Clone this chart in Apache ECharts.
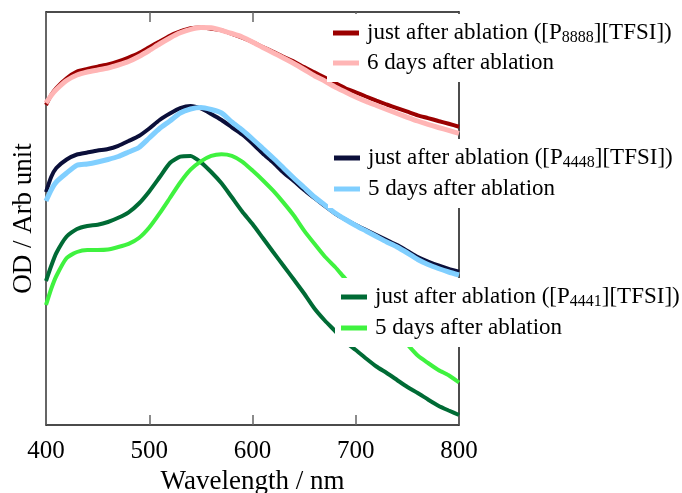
<!DOCTYPE html>
<html><head><meta charset="utf-8">
<script src="https://cdn.jsdelivr.net/npm/echarts@6/dist/echarts.min.js"></script>
<style>html,body{margin:0;padding:0;background:#fff}#c{width:682px;height:493px}</style>
</head><body><div id="c"></div>
<script>
const wavelength = [400,405,410,420,430,440,450,460,470,480,490,500,510,520,530,540,550,560,570,580,590,600,610,620,630,640,650,660,670,680,690,700,710,720,730,740,750,760,770,780,790,800];
const p8888Just = [3.20,3.30,3.37,3.467,3.534,3.56,3.584,3.605,3.636,3.675,3.72,3.778,3.835,3.893,3.935,3.967,3.976,3.963,3.946,3.911,3.873,3.83,3.78,3.732,3.681,3.635,3.579,3.527,3.474,3.42,3.368,3.327,3.285,3.244,3.205,3.169,3.133,3.097,3.069,3.04,3.012,2.983];
const p8888Day6 = [3.22,3.295,3.355,3.445,3.50,3.53,3.55,3.57,3.60,3.635,3.685,3.745,3.81,3.87,3.922,3.957,3.974,3.972,3.947,3.915,3.88,3.83,3.775,3.723,3.67,3.615,3.555,3.493,3.44,3.38,3.33,3.28,3.235,3.195,3.155,3.115,3.077,3.04,3.007,2.975,2.946,2.917];
const p4448Just = [2.33,2.48,2.57,2.655,2.705,2.725,2.745,2.76,2.792,2.84,2.89,2.965,3.05,3.114,3.168,3.19,3.165,3.11,3.05,2.977,2.905,2.815,2.715,2.625,2.525,2.44,2.35,2.27,2.19,2.115,2.055,2.00,1.95,1.90,1.85,1.80,1.74,1.68,1.635,1.595,1.562,1.533];
const p4448Day5 = [2.24,2.35,2.43,2.52,2.597,2.61,2.63,2.655,2.685,2.73,2.775,2.87,2.965,3.04,3.12,3.16,3.175,3.155,3.12,3.03,2.95,2.86,2.765,2.67,2.57,2.47,2.375,2.28,2.20,2.12,2.055,1.995,1.94,1.885,1.83,1.78,1.72,1.655,1.605,1.565,1.53,1.50];
const p4441Just = [1.44,1.59,1.72,1.885,1.96,1.99,2.003,2.03,2.072,2.127,2.215,2.336,2.477,2.62,2.683,2.69,2.627,2.53,2.417,2.277,2.135,2.01,1.87,1.73,1.593,1.455,1.315,1.165,1.045,0.94,0.83,0.75,0.665,0.585,0.52,0.45,0.38,0.32,0.255,0.193,0.145,0.10];
const p4441Day5 = [1.20,1.36,1.49,1.67,1.73,1.75,1.75,1.755,1.78,1.812,1.87,1.975,2.116,2.27,2.425,2.553,2.636,2.691,2.708,2.692,2.634,2.544,2.448,2.343,2.224,2.095,1.944,1.812,1.685,1.58,1.462,1.352,1.243,1.134,1.025,0.916,0.806,0.695,0.62,0.55,0.497,0.425];

const seriesKeys = ['a8888','b8888','a4448','b4448','a4441','b4441'];
const seriesValues = [p8888Just,p8888Day6,p4448Just,p4448Day5,p4441Just,p4441Day5];
const seriesLabels = {
  a8888: 'just after ablation ([P{sub|8888}][TFSI])',
  b8888: '6 days after ablation',
  a4448: 'just after ablation ([P{sub|4448}][TFSI])',
  b4448: '5 days after ablation',
  a4441: 'just after ablation ([P{sub|4441}][TFSI])',
  b4441: '5 days after ablation'
};
const seriesColors = ['#9b0000','#ffb5b5','#0b0f3a','#80cfff','#006b35','#3ff23f'];
const seriesWidths = [4,5,4,5,4,4];

const FONT = 'Liberation Serif';
const chart = echarts.init(document.getElementById('c'), null, {renderer:'canvas'});

function legendCfg(keys, left, top, gap){
  return {
    data: keys, orient:'vertical', left: left, top: top, itemGap: gap,
    icon:'rect', itemWidth: 26, itemHeight: 5,
    backgroundColor:'#fff', padding:[6, 30, 6, 6],
    selectedMode:false,
    formatter: n => seriesLabels[n],
    textStyle:{fontFamily:FONT, fontSize:23, color:'#000', lineHeight:26, padding:[0,0,0,3],
      rich:{sub:{fontFamily:FONT, fontSize:16, color:'#000', padding:[10,0,0,0]}}}
  };
}

chart.setOption({
  animation:false,
  backgroundColor:'#fff',
  grid:{left:46, right:223, top:12, bottom:68, outerBoundsMode:'none', containLabel:false, show:false},
  xAxis:[{
    type:'value', min:400, max:800, interval:100, position:'bottom',
    name:'Wavelength / nm', nameLocation:'middle', nameGap:41,
    nameTextStyle:{fontFamily:FONT, fontSize:27, color:'#000'},
    axisLine:{show:true, onZero:false, lineStyle:{color:'#111', width:1.5}},
    axisTick:{show:true, inside:true, length:10, lineStyle:{color:'#666', width:1.5}},
    axisLabel:{fontFamily:FONT, fontSize:25, color:'#000', margin:14},
    splitLine:{show:false}
  },{
    type:'value', min:400, max:800, interval:100, position:'top',
    axisLine:{show:true, onZero:false, lineStyle:{color:'#111', width:1.5}},
    axisTick:{show:true, inside:true, length:10, lineStyle:{color:'#666', width:1.5}},
    axisLabel:{show:false}, splitLine:{show:false}
  }],
  yAxis:[{
    type:'value', min:0, max:4.13, position:'left',
    name:'OD / Arb unit', nameLocation:'middle', nameGap:9,
    nameTextStyle:{fontFamily:FONT, fontSize:27, color:'#000'},
    axisLine:{show:true, onZero:false, lineStyle:{color:'#333', width:1.5}},
    axisTick:{show:false}, axisLabel:{show:false}, splitLine:{show:false}
  },{
    type:'value', min:0, max:4.13, position:'right',
    axisLine:{show:true, onZero:false, lineStyle:{color:'#111', width:1.5}},
    axisTick:{show:false}, axisLabel:{show:false}, splitLine:{show:false}
  }],
  legend:[
    legendCfg(['a8888','b8888'], 327, 14, 4),
    legendCfg(['a4448','b4448'], 328, 139, 5),
    legendCfg(['a4441','b4441'], 335, 278, 5)
  ],
  series: seriesKeys.map((k,i)=>({
    name:k, type:'line', xAxisIndex: (i === 5 ? 1 : 0), yAxisIndex: (i === 5 ? 1 : 0),
    data: wavelength.map((w,j)=>[w, seriesValues[i][j]]),
    showSymbol:false, smooth:0.2,
    color: seriesColors[i],
    lineStyle:{color:seriesColors[i], width:seriesWidths[i]},
    z: 2 + i*0.01
  }))
});
</script></body></html>
